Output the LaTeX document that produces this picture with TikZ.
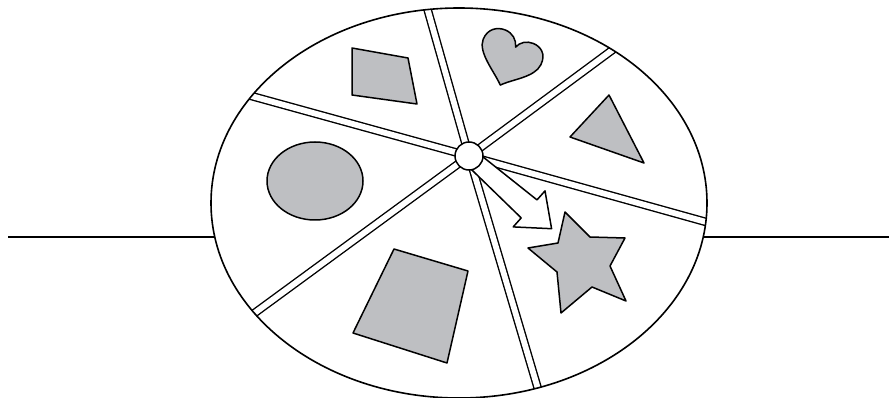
\documentclass[tikz,border=0pt]{standalone}
\usetikzlibrary{calc}
\definecolor{shapegray}{RGB}{190,191,194}
\begin{document}
\begin{tikzpicture}[x=1pt,y=-1pt,line join=round,
  outl/.style={draw=black,line width=1.5pt},
  shapefill/.style={outl,fill=shapegray},
  spoke/.style={draw=black,line width=1.4pt,double=white,double distance=5.8pt}]
\useasboundingbox (0,0) rectangle (891,398);
\coordinate (C) at (459,203);
\coordinate (hubc) at (469,156);
\coordinate (LL) at (8,237);
\coordinate (RR) at (889,237);
\coordinate (s1) at (428,11);
\coordinate (s2) at (611,51);
\coordinate (s3) at (706,222);
\coordinate (s4) at (538,389);
\coordinate (s5) at (256,312);
\coordinate (s6) at (255,97);
% horizontal axis lines
\draw[line width=1.4pt] (LL) -- (C |- LL) -- (RR);
% plate
\fill[white] (C) ellipse [x radius=248pt, y radius=195pt];
% spokes
\begin{scope}
\clip (C) ellipse [x radius=248pt, y radius=195pt];
\foreach \s in {s1,s2,s3,s4,s5,s6}
  \draw[spoke] (hubc) -- ($(hubc)!1.15!(\s)$);
\end{scope}
\draw[outl,line width=1.6pt] (C) ellipse [x radius=248pt, y radius=195pt];
% shapes
\draw[shapefill] (352,48) -- (408,58) -- (417,104) -- (352,95) -- cycle;
\begin{scope}[shift={(510,61)},rotate=-22]
\draw[shapefill] (0,26) .. controls (-10,16) and (-33,4) .. (-33,-10)
  .. controls (-33,-22) and (-24,-27) .. (-16,-27)
  .. controls (-8,-27) and (-2,-22) .. (0,-15)
  .. controls (2,-21) and (8,-25) .. (15,-25)
  .. controls (23,-25) and (31,-20) .. (30,-8)
  .. controls (29,6) and (9,16) .. (0,26) -- cycle;
\end{scope}
\draw[shapefill] (609,95) -- (644,163) -- (570,137) -- cycle;
\draw[shapefill] (315,181) ellipse [x radius=48pt, y radius=39pt];
\draw[shapefill] (394,249) -- (468,271) -- (447,363) -- (353,333) -- cycle;
\draw[shapefill] (565,212) -- (590,237) -- (625,238) -- (610,266) -- (626,301)
  -- (592,287) -- (561,313) -- (557,272) -- (528,248) -- (558,243) -- cycle;
% arrow
\draw[outl,fill=white] (474.3,150) -- (537,199.9) -- (545,190.9) -- (551.6,228.7)
  -- (513.2,226.9) -- (521.2,217.9) -- (463.7,162) -- cycle;
% hub
\node[circle,draw,line width=1.5pt,fill=white,minimum size=28pt,inner sep=0pt] (hub) at (hubc) {};
\end{tikzpicture}
\end{document}
